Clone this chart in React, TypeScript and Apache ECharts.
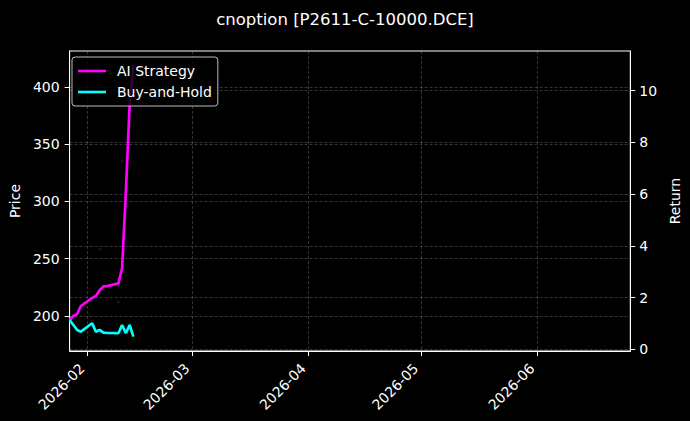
import React, { useEffect, useRef } from 'react';
import * as echarts from 'echarts';

// trading days shown in the chart
const dates = [
  '2026-01-27', '2026-01-28', '2026-01-29', '2026-01-30', '2026-02-02',
  '2026-02-03', '2026-02-04', '2026-02-05', '2026-02-06', '2026-02-09',
  '2026-02-10', '2026-02-11', '2026-02-12', '2026-02-13',
];
const aiStrategy = [196.5, 200.0, 201.7, 208.7, 215.7, 217.5, 222.5, 225.8, 226.1, 228.5, 241.9, 308.3, 384.3, 419.5];
const buyAndHold = [196.5, 192.1, 187.8, 186.3, 193.6, 186.3, 187.8, 185.4, 185.2, 184.9, 192.1, 184.9, 192.1, 181.9];

// faint signal dots on the price axis
const signalDates = ['2026-02-04', '2026-02-09', '2026-02-10'];
const signalPrices = [258.3, 212.0, 335.6];

const monthTicks = ['2026-02-01', '2026-03-01', '2026-04-01', '2026-05-01', '2026-06-01'];
const priceTicks = [200, 250, 300, 350, 400];
const returnTicks = [0, 2, 4, 6, 8, 10];

const FONT = 'DejaVu Sans';

const toTime = (d: string, h = 8, m = 40) => {
  const [y, mo, da] = d.split('-').map(Number);
  return new Date(y, mo - 1, da, h, m).getTime();
};

const fmtMonth = (v: number) => {
  const d = new Date(v);
  return `${d.getFullYear()}-${String(d.getMonth() + 1).padStart(2, '0')}`;
};

const App: React.FC = () => {
  const chartRef = useRef<HTMLDivElement>(null);

  useEffect(() => {
    if (!chartRef.current) return;
    const chart = echarts.init(chartRef.current, undefined, { renderer: 'svg' });

    const gridLine = { show: true, lineStyle: { color: 'rgba(255,255,255,0.26)', type: [3, 2] as any, width: 0.8 } };
    const monthValues = monthTicks.map(d => toTime(d, 0, 0));

    const option: echarts.EChartsOption = {
      animation: false,
      backgroundColor: '#000',
      title: {
        text: 'cnoption [P2611-C-10000.DCE]',
        left: 'center',
        top: 6,
        textStyle: { color: '#fff', fontSize: 16.5, fontWeight: 'normal', fontFamily: FONT },
      },
      grid: {
        left: 67, right: 57, top: 51, bottom: 70,
        show: true, borderColor: '#fff', borderWidth: 1, backgroundColor: '#000',
      },
      legend: {
        orient: 'vertical',
        left: 72,
        top: 57,
        padding: [6, 6, 6, 6],
        itemGap: 5,
        itemWidth: 28,
        itemHeight: 2.6,
        icon: 'rect',
        backgroundColor: 'rgba(0,0,0,0.8)',
        borderColor: '#bbb',
        borderWidth: 1,
        borderRadius: 3,
        data: ['AI Strategy', 'Buy-and-Hold'],
        textStyle: { color: '#fff', fontSize: 14, fontFamily: FONT, lineHeight: 16, padding: [0, 0, 0, 6] },
      },
      xAxis: {
        type: 'value',
        min: toTime('2026-01-27', 8, 40),
        max: toTime('2026-06-25', 20, 40),
        axisLine: { show: true, onZero: false, lineStyle: { color: '#fff' } },
        axisTick: { show: true, length: 5, lineStyle: { color: '#fff' }, customValues: monthValues } as any,
        axisLabel: {
          color: '#fff', fontSize: 14, fontFamily: FONT, rotate: 45, margin: 10,
          padding: [0, 7, 0, 0],
          customValues: monthValues, formatter: (v: number) => fmtMonth(v),
        } as any,
        splitLine: gridLine,
      },
      yAxis: [
        {
          type: 'value',
          name: 'Price',
          nameLocation: 'middle',
          nameGap: 42,
          nameTextStyle: { color: '#fff', fontSize: 14, fontFamily: FONT },
          min: 169.4,
          max: 431.4,
          axisLine: { show: true, onZero: false, lineStyle: { color: '#fff' } },
          axisTick: { show: true, length: 5, lineStyle: { color: '#fff' }, customValues: priceTicks } as any,
          axisLabel: { color: '#fff', fontSize: 14, fontFamily: FONT, margin: 10, customValues: priceTicks } as any,
          splitLine: gridLine,
        },
        {
          type: 'value',
          name: 'Return',
          nameLocation: 'middle',
          nameGap: 31,
          nameTextStyle: { color: '#fff', fontSize: 14, fontFamily: FONT },
          position: 'right',
          min: -0.066,
          max: 11.535,
          axisLine: { show: true, onZero: false, lineStyle: { color: '#fff' } },
          axisTick: { show: true, length: 5, lineStyle: { color: '#fff' }, customValues: returnTicks } as any,
          axisLabel: { color: '#fff', fontSize: 14, fontFamily: FONT, margin: 9, customValues: returnTicks } as any,
          splitLine: gridLine,
        },
      ],
      series: [
        {
          name: 'Signals',
          type: 'scatter',
          yAxisIndex: 0,
          symbolSize: 3,
          itemStyle: { color: '#4a0a0a' },
          data: signalDates.map((d, i) => [toTime(d), signalPrices[i]]),
          silent: true,
        },
        {
          name: 'AI Strategy',
          type: 'line',
          yAxisIndex: 0,
          symbol: 'none',
          lineStyle: { color: '#ff00ff', width: 2.7 },
          itemStyle: { color: '#ff00ff' },
          data: dates.map((d, i) => [toTime(d), aiStrategy[i]]),
        },
        {
          name: 'Buy-and-Hold',
          type: 'line',
          yAxisIndex: 0,
          symbol: 'none',
          lineStyle: { color: '#00ffff', width: 2.7 },
          itemStyle: { color: '#00ffff' },
          data: dates.map((d, i) => [toTime(d), buyAndHold[i]]),
        },
      ],
    };

    chart.setOption(option);
    return () => chart.dispose();
  }, []);

  return (
    <div
      ref={chartRef}
      style={{ position: 'fixed', left: 0, top: 0, width: '690px', height: '421px', background: '#000' }}
    />
  );
};

export default App;
